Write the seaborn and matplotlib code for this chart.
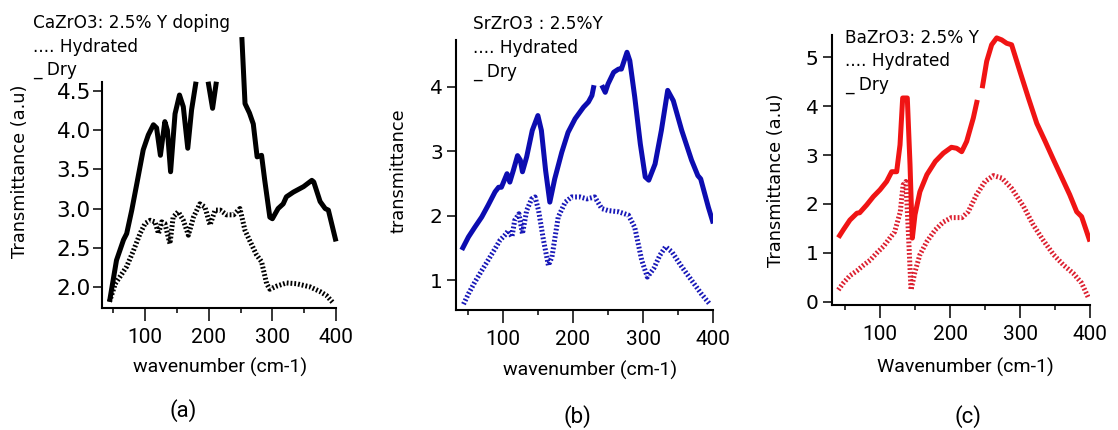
import numpy as np
import matplotlib
matplotlib.use("Agg")
import matplotlib.pyplot as plt
import seaborn as sns

nan = np.nan

# ---------------- data ----------------
# (a) CaZrO3
a_x_dry = [44, 55, 66, 71, 79, 87, 97, 105, 113, 118, 124, 131, 135, 140, 147, 154, 160, 167, 173, 180,
           nan, 199, 206, 212, nan, 252, 257, 264, 270, 276, 283, 288, 296, 300, 309, 317, 322, 333, 349,
           362, 365, 375, 383, 388, 400]
a_y_dry = [1.81, 2.34, 2.60, 2.68, 2.98, 3.32, 3.75, 3.94, 4.07, 4.03, 3.68, 4.11, 4.00, 3.47, 4.21, 4.45,
           4.30, 3.77, 4.26, 4.62, nan, 4.62, 4.28, 4.62, nan, 5.19, 4.34, 4.22, 4.08, 3.66, 3.68, 3.36,
           2.89, 2.87, 3.00, 3.06, 3.15, 3.21, 3.28, 3.36, 3.34, 3.09, 3.00, 2.98, 2.58]
a_x_hyd = [44, 53, 60.5, 71, 81, 92, 100, 108, 115.5, 121, 126, 131, 139, 144, 152, 160, 168, 176, 186,
           194, 202, 210, 218, 228, 239, 249, 257, 265, 275, 283, 291, 296, 307, 322, 338, 359, 375, 385, 395]
a_y_hyd = [1.81, 2.04, 2.13, 2.26, 2.45, 2.68, 2.81, 2.85, 2.83, 2.68, 2.83, 2.81, 2.55, 2.89, 2.96, 2.85,
           2.66, 2.89, 3.06, 3.02, 2.79, 2.98, 2.98, 2.92, 2.92, 3.00, 2.72, 2.58, 2.41, 2.32, 2.04, 1.97,
           2.01, 2.05, 2.04, 2.00, 1.94, 1.89, 1.80]
a_yticks = [2.0, 2.5, 3.0, 3.5, 4.0, 4.5]
a_yticklabels = ["2.0", "2.5", "3.0", "3.5", "4.0", "4.5"]

# (b) SrZrO3
b_x_dry = [41.5, 51, 60, 70, 79, 89, 94, 98, 106, 110, 115, 121, 125, 128, 134, 142, 150, 155, 161, 167,
           174, 184, 193, 203, 215, 222, 227, 230, nan, 241, 246, 250, 258, 265, 269, 277, 281, 288, 296,
           303, 308, 317, 326, 335, 343, 355, 369, 378, 382, 393, 400]
b_y_dry = [1.47, 1.67, 1.82, 1.98, 2.16, 2.37, 2.44, 2.44, 2.65, 2.52, 2.70, 2.93, 2.86, 2.68, 2.91, 3.32,
           3.55, 3.32, 2.70, 2.21, 2.57, 2.98, 3.29, 3.50, 3.68, 3.76, 3.86, 4.02, nan, 4.02, 3.91, 4.04,
           4.22, 4.27, 4.27, 4.53, 4.40, 3.84, 3.11, 2.60, 2.55, 2.80, 3.32, 3.94, 3.78, 3.32, 2.86, 2.62,
           2.57, 2.13, 1.88]
b_x_hyd = [44, 51, 60, 70, 79, 89, 96, 103, 108, 113, 117, 123, 128, 134, 141, 146, 151, 158, 165, 170,
           179, 189, 198, 210, 220, 231, 241, 250, 265, 279, 288, 298, 306, 315, 324, 332, 341, 355, 369,
           383, 395]
b_y_hyd = [0.63, 0.79, 0.97, 1.15, 1.31, 1.49, 1.62, 1.70, 1.77, 1.67, 1.93, 2.03, 1.72, 2.08, 2.26, 2.29,
           2.08, 1.62, 1.23, 1.36, 1.98, 2.21, 2.29, 2.29, 2.26, 2.29, 2.11, 2.08, 2.06, 2.01, 1.82, 1.31,
           1.05, 1.18, 1.39, 1.52, 1.44, 1.21, 1.00, 0.79, 0.63]
b_yticks = [1, 2, 3, 4]
b_yticklabels = ["1", "2", "3", "4"]

# (c) BaZrO3
c_x_dry = [40.5, 47.6, 57, 67, 71, 81, 90.5, 100, 109.5, 116.7, 123.8, 128.6, 132.4, 139, 142.9, 146.2,
           150, 157, 167, 179, 190.5, 202, 209.5, 216.7, 223.8, 233.3, 239, nan, 246, 252.4, 259.5, 266.7,
           273.8, 281, 288, 300, 312, 324, 336, 348, 360, 371, 381, 388, 400]
c_y_dry = [1.31, 1.47, 1.67, 1.81, 1.82, 1.98, 2.15, 2.29, 2.46, 2.66, 2.66, 3.21, 4.17, 4.17, 2.80, 1.30,
           1.78, 2.25, 2.60, 2.87, 3.04, 3.16, 3.14, 3.07, 3.28, 3.76, 4.13, nan, 4.37, 4.92, 5.26, 5.40,
           5.36, 5.29, 5.26, 4.71, 4.17, 3.65, 3.28, 2.90, 2.53, 2.19, 1.84, 1.74, 1.23]
c_x_hyd = [40.5, 47.6, 57, 67, 76, 86, 95, 105, 114, 121, 129, 133, 137, 140.5, 144.3, 150, 157, 167, 179,
           190.5, 202, 217, 226, 238, 250, 262, 274, 288, 305, 319, 333, 348, 362, 376, 388, 398]
c_y_hyd = [0.24, 0.38, 0.53, 0.63, 0.74, 0.85, 0.99, 1.13, 1.30, 1.43, 1.84, 2.39, 2.46, 1.43, 0.24, 0.61,
           0.96, 1.23, 1.47, 1.63, 1.72, 1.72, 1.84, 2.19, 2.46, 2.58, 2.53, 2.32, 1.95, 1.57, 1.26, 0.96,
           0.75, 0.58, 0.38, 0.07]
c_yticks = [0, 1, 2, 3, 4, 5]
c_yticklabels = ["0", "1", "2", "3", "4", "5"]

x_major = [100, 200, 300, 400]
x_major_labels = ["100", "200", "300", "400"]
x_minor = [50, 150, 250, 350]

# ---------------- styling ----------------
sns.set_theme(style="ticks")
plt.rcParams['font.family'] = ['DejaVu Sans']

W, H = 1118, 430
fig = plt.figure(figsize=(W / 100, H / 100), dpi=100)


def box(l, t, r, b):
    return [l / W, 1 - b / H, (r - l) / W, (b - t) / H]


def fpos(px, py):
    return px / W, 1 - py / H


def segments(xs, ys):
    xs = np.asarray(xs, float)
    ys = np.asarray(ys, float)
    bad = np.isnan(xs) | np.isnan(ys)
    out, cur = [], []
    for i in range(len(xs)):
        if bad[i]:
            if cur:
                out.append(cur)
            cur = []
        else:
            cur.append(i)
    if cur:
        out.append(cur)
    return [(xs[c], ys[c]) for c in out]


DOT = (0, (0.36, 0.40))

panels = [
    dict(rect=(102, 81.7, 336, 308), xlim=(32.2, 400), ylim=(1.73, 4.62),
         dry=(a_x_dry, a_y_dry), hyd=(a_x_hyd, a_y_hyd), color="#000000", hcolor="#000000",
         yticks=a_yticks, yticklabels=a_yticklabels, ytsize=15.5, ytpad=1.5,
         ylabel="Transmittance (a.u)", ylab=(20, 171), xlabel="wavenumber (cm-1)", xlab=(220, 367),
         title=["CaZrO3: 2.5% Y doping", ".... Hydrated", "_ Dry"], tpos=(33, 23), tstep=23.5,
         sub="(a)", subpos=(183, 411), clip=False),
    dict(rect=(456, 40, 713.3, 310), xlim=(33.3, 400), ylim=(0.54, 4.72),
         dry=(b_x_dry, b_y_dry), hyd=(b_x_hyd, b_y_hyd), color="#0c0cb0", hcolor="#1818b8",
         yticks=b_yticks, yticklabels=b_yticklabels, ytsize=14.5, ytpad=3,
         ylabel="transmittance", ylab=(399, 171), xlabel="wavenumber (cm-1)", xlab=(590, 370),
         title=["SrZrO3 : 2.5%Y", ".... Hydrated", "_ Dry"], tpos=(473, 24), tstep=24,
         sub="(b)", subpos=(577, 417), clip=True),
    dict(rect=(831.7, 35, 1090, 305), xlim=(31, 400), ylim=(-0.07, 5.46),
         dry=(c_x_dry, c_y_dry), hyd=(c_x_hyd, c_y_hyd), color="#f01414", hcolor="#dc2030",
         yticks=c_yticks, yticklabels=c_yticklabels, ytsize=14.5, ytpad=3,
         ylabel="Transmittance (a.u)", ylab=(776, 180), xlabel="Wavenumber (cm-1)", xlab=(965, 367),
         title=["BaZrO3: 2.5% Y", ".... Hydrated", "_ Dry"], tpos=(845, 38), tstep=23.5,
         sub="(c)", subpos=(968, 417), clip=True),
]

for p in panels:
    l, t, r, b = p["rect"]
    ax = fig.add_axes(box(l, t, r, b))
    ax.set_facecolor("white")
    for xs, ys in segments(*p["hyd"]):
        sns.lineplot(x=xs, y=ys, ax=ax, color=p["hcolor"], lw=3.6, linestyle=DOT,
                     sort=False, estimator=None, errorbar=None)
    for xs, ys in segments(*p["dry"]):
        sns.lineplot(x=xs, y=ys, ax=ax, color=p["color"], lw=3.6, sort=False,
                     estimator=None, errorbar=None, clip_on=p["clip"],
                     solid_capstyle="butt", solid_joinstyle="round")
    ax.set_xlim(*p["xlim"])
    ax.set_ylim(*p["ylim"])
    sns.despine(ax=ax)
    for s in ("left", "bottom"):
        ax.spines[s].set_linewidth(1.5)
        ax.spines[s].set_color("black")
    ax.set_xticks(x_major, x_major_labels)
    ax.set_xticks(x_minor, minor=True)
    ax.set_yticks(p["yticks"], p["yticklabels"])
    ax.tick_params(axis="x", which="major", direction="out", length=9.4, width=1.1, pad=5,
                   labelsize=15, labelfontfamily="Roboto", colors="black", bottom=True)
    ax.tick_params(axis="x", which="minor", direction="out", length=3.8, width=1.1, bottom=True,
                   colors="black")
    ax.tick_params(axis="y", which="major", direction="out", length=6.5, width=1.1, pad=p["ytpad"],
                   labelsize=p["ytsize"], colors="black", left=True)
    w = r - l
    h = b - t
    ax.set_ylabel(p["ylabel"], fontsize=12.8, color="black", va="center", ha="center")
    ax.yaxis.set_label_coords((p["ylab"][0] - l) / w, (b - p["ylab"][1]) / h)
    ax.set_xlabel(p["xlabel"], fontsize=14, family="Roboto", color="black", va="center", ha="center")
    ax.xaxis.set_label_coords((p["xlab"][0] - l) / w, (b - p["xlab"][1]) / h)
    for i, line in enumerate(p["title"]):
        fx, fy = fpos(p["tpos"][0], p["tpos"][1] + i * p["tstep"])
        fig.text(fx, fy, line, ha="left", va="center", fontsize=12.2, color="black")
    fx, fy = fpos(*p["subpos"])
    fig.text(fx, fy, p["sub"], ha="center", va="center", fontsize=16, family="Roboto", color="black")

fig.savefig("out.png", dpi=100, facecolor="white")
